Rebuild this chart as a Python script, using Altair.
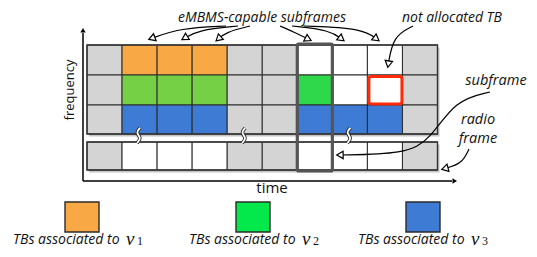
import math
import altair as alt
import pandas as pd

# ---------------- data ----------------
subframes = list(range(10))
# allocation state of each transport block (rows top -> bottom), one entry per subframe
row_states = [
    ["idle", "v1", "v1", "v1", "idle", "idle", "free", "free", "free", "idle"],
    ["idle", "v2", "v2", "v2", "idle", "idle", "v2b", "free", "free", "idle"],
    ["idle", "v3", "v3", "v3", "idle", "idle", "v3", "v3", "v3", "idle"],
]
frame_states = ["idle", "free", "free", "free", "idle", "idle", "free", "free", "free", "idle"]
highlight_subframe = 6
unallocated_cell = (1, 8)          # (row, subframe)
break_subframes = [1, 4, 7]

legend_text = ["TBs associated to", "TBs associated to", "TBs associated to"]
legend_users = ["1", "2", "3"]
legend_states = ["v1", "v2L", "v3"]

state_colors = {
    "idle": "#d4d4d4", "free": "#ffffff",
    "v1": "#f8a844", "v2": "#76d046", "v2b": "#2ed84a", "v3": "#3d7bd5",
    "v2L": "#03e84b",
}

# ---------------- geometry helpers ----------------
X0, CW = 87.0, 35.05
ROW_EDGES = [45, 75, 105, 134]
FRAME_EDGES = (142, 170)
FONT = "Open Sans"

XS = alt.Scale(domain=[8, 529], nice=False, zero=False)
YS = alt.Scale(domain=[8, 249], nice=False, zero=False, reverse=True)


def X(f="x"):
    return alt.X(f"{f}:Q", scale=XS, axis=None)


def Y(f="y"):
    return alt.Y(f"{f}:Q", scale=YS, axis=None)


def X2(f="x2"):
    return alt.X2(f"{f}:Q")


def Y2(f="y2"):
    return alt.Y2(f"{f}:Q")


cells = []
for r, states in enumerate(row_states):
    for c, s in enumerate(states):
        cells.append(dict(x=X0 + c * CW, x2=X0 + (c + 1) * CW,
                          y=ROW_EDGES[r], y2=ROW_EDGES[r + 1], col=state_colors[s]))
for c, s in enumerate(frame_states):
    cells.append(dict(x=X0 + c * CW, x2=X0 + (c + 1) * CW,
                      y=FRAME_EDGES[0], y2=FRAME_EDGES[1], col=state_colors[s]))
cells = pd.DataFrame(cells)

blocks = pd.DataFrame([
    dict(x=X0, x2=X0 + 10 * CW, y=ROW_EDGES[0], y2=ROW_EDGES[-1]),
    dict(x=X0, x2=X0 + 10 * CW, y=FRAME_EDGES[0], y2=FRAME_EDGES[1]),
])
shadow = blocks.assign(x=blocks.x + 2, x2=blocks.x2 + 2, y=blocks.y + 2.5, y2=blocks.y2 + 2.5)

shadow_l = alt.Chart(shadow).mark_rect(fill="#c4c4c4").encode(x=X(), x2=X2(), y=Y(), y2=Y2())
cell_l = alt.Chart(cells).mark_rect(stroke="#2b2b2b", strokeWidth=1).encode(
    x=X(), x2=X2(), y=Y(), y2=Y2(), fill=alt.Fill("col:N", scale=None))
block_l = alt.Chart(blocks).mark_rect(fill=None, stroke="#333333", strokeWidth=1.4).encode(
    x=X(), x2=X2(), y=Y(), y2=Y2())

hl = pd.DataFrame([dict(x=X0 + highlight_subframe * CW, x2=X0 + (highlight_subframe + 1) * CW,
                        y=ROW_EDGES[0] - 1, y2=FRAME_EDGES[1] + 1)])
hl_l = alt.Chart(hl).mark_rect(fill=None, stroke="#555555", strokeWidth=3.2, cornerRadius=1.5).encode(
    x=X(), x2=X2(), y=Y(), y2=Y2())

ur, uc = unallocated_cell
red = pd.DataFrame([dict(x=X0 + uc * CW + 1.5, x2=X0 + (uc + 1) * CW - 0.5,
                         y=ROW_EDGES[ur] + 1.5, y2=ROW_EDGES[ur + 1] - 1)])
red_l = alt.Chart(red).mark_rect(fill="white", stroke="#ff2a0a", strokeWidth=3, cornerRadius=2.5).encode(
    x=X(), x2=X2(), y=Y(), y2=Y2())

# squiggle break marks
sq = []
for i, c in enumerate(break_subframes):
    cx = X0 + (c + 0.5) * CW - 1
    for k, (dx, yy) in enumerate([(1.5, 128), (-3, 132.5), (3, 138), (-1.5, 143)]):
        sq.append(dict(id=i, o=k, x=cx + dx, y=yy))
sq = pd.DataFrame(sq)
sq_black = alt.Chart(sq).mark_line(interpolate="basis", stroke="#222", strokeWidth=3.6).encode(
    x=X(), y=Y(), detail="id:N", order="o:Q")
sq_white = alt.Chart(sq).mark_line(interpolate="basis", stroke="white", strokeWidth=1.8).encode(
    x=X(), y=Y(), detail="id:N", order="o:Q")

# axes
axes = pd.DataFrame([dict(x=83, y=181, x2=83, y2=33), dict(x=83, y=181, x2=452, y2=181)])
axes_l = alt.Chart(axes).mark_rule(stroke="black", strokeWidth=1.5).encode(x=X(), y=Y(), x2=X2(), y2=Y2())
axheads = pd.DataFrame([dict(x=83, y=31, a=0), dict(x=454, y=181, a=90)])
axheads_l = alt.Chart(axheads).mark_point(shape="triangle", filled=True, fill="black", size=28,
                                           opacity=1).encode(
    x=X(), y=Y(), angle=alt.Angle("a:Q", scale=None))

# annotation curves (text -> target)
curves = [
    [(226, 26), (180, 28), (150, 39)],
    [(238, 26), (198, 30), (183, 39)],
    [(250, 26), (226, 32), (217, 40)],
    [(280, 26), (296, 33), (310, 40)],
    [(292, 26), (330, 30), (343, 40)],
    [(304, 26), (362, 28), (378, 40)],
    [(413, 26), (393, 36), (388, 66)],
    [(490, 92), (455, 100), (430, 140), (405, 154), (338, 155)],
    [(469, 149), (462, 164), (443, 169)],
]
cl = []
heads = []
for i, pts in enumerate(curves):
    for k, (px, py) in enumerate(pts):
        cl.append(dict(id=i, o=k, x=px, y=py))
    (ax_, ay_), (bx, by) = pts[-2], pts[-1]
    dx, dy = bx - ax_, by - ay_
    L = math.hypot(dx, dy)
    ang = math.degrees(math.atan2(dx, -dy)) % 360
    heads.append(dict(x=bx - dx / L * 3, y=by - dy / L * 3, a=ang))
cl = pd.DataFrame(cl)
heads = pd.DataFrame(heads)
curve_l = alt.Chart(cl).mark_line(interpolate="basis", stroke="black", strokeWidth=1.2).encode(
    x=X(), y=Y(), detail="id:N", order="o:Q")
head_l = alt.Chart(heads).mark_point(shape="triangle", filled=True, fill="white", stroke="black",
                                     strokeWidth=1.2, size=55, opacity=1).encode(
    x=X(), y=Y(), angle=alt.Angle("a:Q", scale=None))

# labels
top_notes = pd.DataFrame([
    dict(x=262, y=10.5, t="eMBMS-capable subframes"),
    dict(x=452, y=10.5, t="not allocated TB"),
])
top_l = alt.Chart(top_notes).mark_text(font=FONT, fontStyle="italic", fontSize=14, color="#111",
                                       baseline="top").encode(x=X(), y=Y(), text="t:N")
notes = pd.DataFrame([
    dict(x=496, y=81, t="subframe"),
    dict(x=478, y=120, t="radio"),
    dict(x=478, y=139, t="frame"),
])
notes_l = alt.Chart(notes).mark_text(font=FONT, fontStyle="italic", fontSize=14.5, color="#111",
                                     baseline="middle").encode(x=X(), y=Y(), text="t:N")
plain = pd.DataFrame([dict(x=272, y=188, t="time", a=0, s=15), dict(x=70, y=90, t="frequency", a=270, s=13)])
plain_l = alt.Chart(plain).mark_text(font=FONT, color="#111", baseline="middle").encode(
    x=X(), y=Y(), text="t:N", angle=alt.Angle("a:Q", scale=None), size=alt.Size("s:Q", scale=None))

# legend
lg_x = [65, 236, 406]
lg = pd.DataFrame([dict(x=lx, x2=lx + 34, y=202, y2=232, col=state_colors[s])
                   for lx, s in zip(lg_x, legend_states)])
lg_rect = alt.Chart(lg).mark_rect(stroke="#2b2b2b", strokeWidth=1.4).encode(
    x=X(), x2=X2(), y=Y(), y2=Y2(), fill=alt.Fill("col:N", scale=None))
lt_x = [13, 189, 358]
lt = pd.DataFrame([dict(x=tx, y=240, t=t) for tx, t in zip(lt_x, legend_text)])
lt_l = alt.Chart(lt).mark_text(font=FONT, fontStyle="italic", fontSize=14, color="#111",
                               align="left", baseline="middle").encode(x=X(), y=Y(), text="t:N")
lv = pd.DataFrame([dict(x=tx + 113, y=239, t="v") for tx in lt_x])
lv_l = alt.Chart(lv).mark_text(font="Liberation Serif", fontStyle="italic", fontSize=19, color="#111",
                               align="left", baseline="middle").encode(x=X(), y=Y(), text="t:N")
ls = pd.DataFrame([dict(x=tx + 124, y=248, t=u) for tx, u in zip(lt_x, legend_users)])
ls_l = alt.Chart(ls).mark_text(font="Liberation Serif", fontSize=12, color="#111",
                               align="left", baseline="bottom").encode(x=X(), y=Y(), text="t:N")

chart = alt.layer(
    shadow_l, cell_l, block_l, sq_black, sq_white, red_l, hl_l,
    axes_l, axheads_l, curve_l, head_l, top_l, notes_l, plain_l,
    lg_rect, lt_l, lv_l, ls_l,
).properties(
    width=521, height=241, autosize=alt.AutoSizeParams(type="none"), padding=0,
    background="white",
).configure_view(stroke=None)

chart.save("out.html", embed_options={"renderer": "svg", "actions": False})
